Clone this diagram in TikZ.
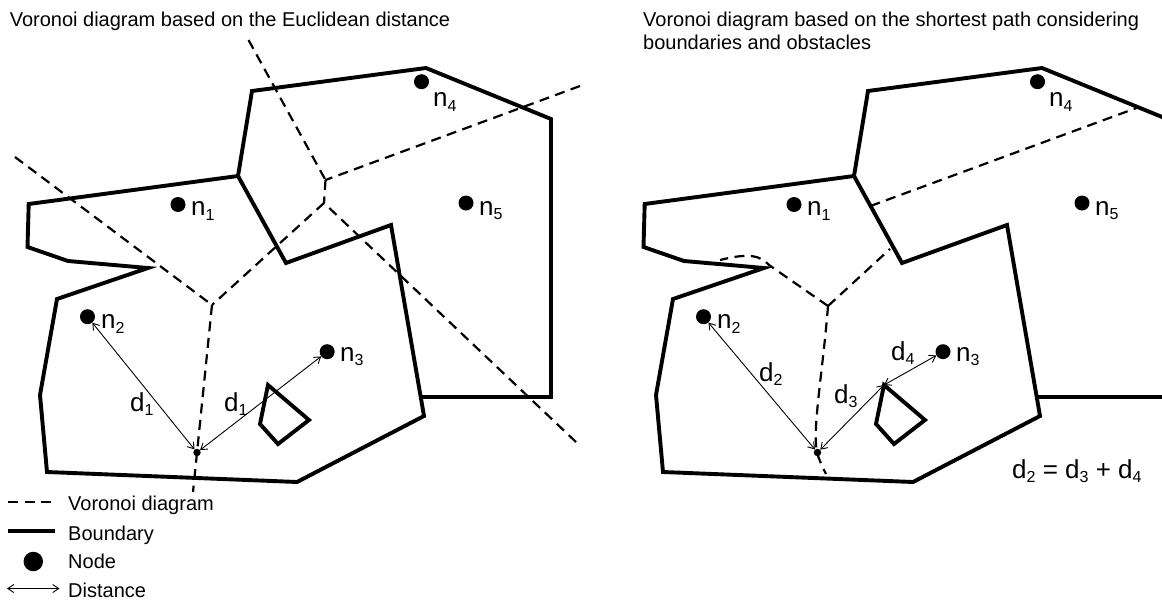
\documentclass[tikz,border=0pt]{standalone}
\usepackage{fontspec}
\setmainfont{Liberation Sans}
\usetikzlibrary{arrows.meta,calc}

% lowered small digit used as an index
\newcommand\lsub[1]{\raisebox{-4.5pt}{\fontsize{16}{16}\selectfont #1}}

% walls of the area and the obstacle (local coordinates of one panel)
\newcommand\drawbounds{%
  \draw[bound] (28.7,204) -- (238,176) -- (286,263) -- (391,225) -- (424,416)
     -- (297,482) -- (47,472) -- (40,395) -- (57,299) -- (148,268) -- (68,261)
     -- (27.5,247) -- cycle;
  \draw[bound] (238,176) -- (252,91) -- (426,68) -- (551,119) -- (551,397) -- (420.7,397);
  \draw[bound] (268,385) -- (309,420) -- (278,444) -- (260,424) -- cycle;
}

\begin{document}
\begin{tikzpicture}[x=1pt,y=-1pt,
  bound/.style={line width=3.9pt},
  vor/.style={line width=2.2pt, dash pattern=on 10pt off 6.5pt},
  dot/.style={circle, fill=black, inner sep=0pt, minimum size=15pt},
  vpt/.style={circle, fill=black, inner sep=0pt, minimum size=7.5pt},
  dist/.style={line width=0.9pt,
    {Straight Barb[length=6pt,width=8pt]}-{Straight Barb[length=6pt,width=8pt]}},
  ttl/.style={font=\fontsize{20}{23}\selectfont, inner sep=0pt, anchor=base west},
  lbl/.style={font=\fontsize{26}{26}\selectfont, inner sep=0pt, anchor=base west},
  ]
\useasboundingbox (0,0) rectangle (1162,600);

% ---------------- titles ----------------
\node[ttl] (t1) at (9.6,26) {Voronoi diagram based on the Euclidean distance};
\node[ttl] (t2) at (643,26) {Voronoi diagram based on the shortest path considering};
\node[ttl] (t3) at (643,49) {boundaries and obstacles};

% ---------------- left panel ----------------
\drawbounds

% Euclidean Voronoi edges
\coordinate (J1) at (212,305);
\coordinate (J2) at (324,203);
\coordinate (J3) at (325.5,180);
\coordinate (eA) at (248.5,40);
\coordinate (eB) at (580,86);
\coordinate (eD) at (576,442);
\coordinate (eF) at (15,157);
\coordinate (eG) at (193,492);
\draw[vor] (eA) -- (J3);
\draw[vor] (eB) -- (J3);
\draw[vor] (J3) -- (J2);
\draw[vor] (eD) -- (J2);
\draw[vor] (J2) -- (J1);
\draw[vor] (eF) -- (J1);
\draw[vor] (J1) -- (eG);

% nodes
\node[dot] (n1) at (178,204.5) {};
\node[dot] (n2) at (87.5,316.7) {};
\node[dot] (n3) at (327.2,351.7) {};
\node[dot] (n4) at (421.5,81.7) {};
\node[dot] (n5) at (466,203) {};
\node[vpt] (P) at (197,452.5) {};

\node[lbl] (n1l) at (191,215.5) {n\lsub{1}};
\node[lbl] (n2l) at (101,328.5) {n\lsub{2}};
\node[lbl] (n3l) at (340,361) {n\lsub{3}};
\node[lbl] (n4l) at (433,106.5) {n\lsub{4}};
\node[lbl] (n5l) at (479,215) {n\lsub{5}};

\draw[dist] (n2) -- (P);
\draw[dist] (P) -- (n3);
\node[lbl] (d1a) at (130,411) {d\lsub{1}};
\node[lbl] (d1b) at (224,411) {d\lsub{1}};

% ---------------- right panel ----------------
\begin{scope}[xshift=616pt]
  \clip (-616,0) rectangle (546,600);
  \drawbounds
\end{scope}

% Voronoi edges for the shortest path
\coordinate (K1) at (828,306);
\coordinate (kA) at (870.5,206);
\coordinate (kB) at (1138.3,107.3);
\coordinate (kC) at (890,249);
\coordinate (kD) at (720,260);
\coordinate (kE) at (826,474);
\draw[vor] (kA) -- (kB);
\draw[vor] (K1) -- (kC);
\draw[vor] (K1) -- (769,265) .. controls (760,255) and (748,253) .. (kD);
\draw[vor] (K1) .. controls (823,370) and (812,430) .. (817,452)
               .. controls (819,460) and (822,466) .. (kE);

% nodes
\node[dot] (m1) at (794,204.5) {};
\node[dot] (m2) at (703.5,316.7) {};
\node[dot] (m3) at (943,351.7) {};
\node[dot] (m4) at (1037.5,81.7) {};
\node[dot] (m5) at (1082,203) {};
\node[vpt] (Q) at (817.5,452.5) {};
\coordinate (tip) at (884,385);

\node[lbl] (m1l) at (807,215.5) {n\lsub{1}};
\node[lbl] (m2l) at (717,328.5) {n\lsub{2}};
\node[lbl] (m3l) at (956,361) {n\lsub{3}};
\node[lbl] (m4l) at (1049,106.5) {n\lsub{4}};
\node[lbl] (m5l) at (1095,215) {n\lsub{5}};

\draw[dist] (m2) -- (Q);
\draw[dist] (Q) -- (tip);
\draw[dist] (tip) -- (m3);
\node[lbl] (d2) at (759,381) {d\lsub{2}};
\node[lbl] (d3) at (834,403) {d\lsub{3}};
\node[lbl] (d4) at (891,360) {d\lsub{4}};
\node[lbl] (eq) at (1012,478) {d\lsub{2} = d\lsub{3} + d\lsub{4}};

% ---------------- legend ----------------
\coordinate (lv1) at (8,502);   \coordinate (lv2) at (52,502);
\coordinate (lb1) at (8,531);   \coordinate (lb2) at (55,531);
\coordinate (la1) at (7,588.5); \coordinate (la2) at (59.5,588.5);
\draw[vor] (lv1) -- (lv2);
\draw[line width=4pt] (lb1) -- (lb2);
\node[circle, fill=black, inner sep=0pt, minimum size=19.5pt] (ln) at (33.3,561.5) {};
\draw[dist] (la1) -- (la2);
\node[ttl] (lt1) at (68,510.5) {Voronoi diagram};
\node[ttl] (lt2) at (68,540) {Boundary};
\node[ttl] (lt3) at (68,568.5) {Node};
\node[ttl] (lt4) at (68,597) {Distance};
\end{tikzpicture}
\end{document}
